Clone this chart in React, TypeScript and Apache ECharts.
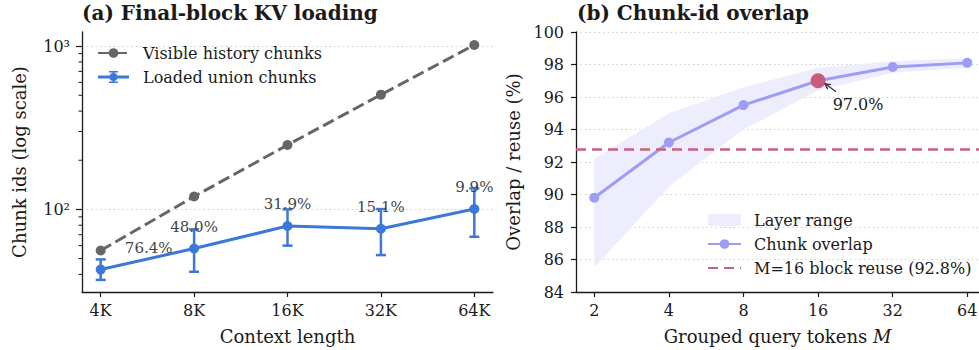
import React, { useEffect, useRef } from 'react';
import * as echarts from 'echarts';

// ---------- Panel (a) data ----------
const contextLabels = ['4K', '8K', '16K', '32K', '64K'];
const visibleChunks = [56, 120, 248, 504, 1016];
const loadedChunks = [42.8, 57.6, 79.1, 76.1, 100.6];
const loadedLow = [37, 41.5, 60, 52.5, 68];
const loadedHigh = [49.4, 75.5, 100, 100.5, 134.5];
const loadedPctLabels = ['76.4%', '48.0%', '31.9%', '15.1%', '9.9%'];
const logMajorTicks = [100, 1000];
const logMinorTicks = [40, 50, 60, 70, 80, 90, 200, 300, 400, 500, 600, 700, 800, 900];

// ---------- Panel (b) data ----------
const groupTokens = [2, 4, 8, 16, 32, 64];
const chunkOverlap = [89.8, 93.2, 95.5, 97.0, 97.85, 98.1];
const layerLow = [85.5, 90.5, 94.0, 96.4, 97.5, 97.8];
const layerHigh = [92.2, 95.0, 96.6, 97.8, 98.2, 98.4];
const blockReuse = 92.8;
const highlightM = 16;
const highlightValue = 97.0;

const FONT = 'DejaVu Serif';
const INK = '#1a1a1a';
const GRAY = '#666666';
const BLUE = '#3c78d8';
const LAVENDER = '#9d9df7';
const BAND = '#ededfd';
const ROSE = '#c9607f';
const GRID = '#cfcfcf';

// legend glyph: line + marker + error bar (drawn as one filled path)
const ERRBAR_ICON =
  'path://M0 4.5H31V7.5H0Z M14.5 0H16.5V12H14.5Z M11 0H20V1.6H11Z M11 10.4H20V12H11Z ' +
  'M19.5 6A4 4 0 1 1 11.5 6A4 4 0 1 1 19.5 6Z';

const supDigits: Record<string, string> = { '0': '⁰', '1': '¹', '2': '²', '3': '³', '4': '⁴' };

export default function App() {
  const ref = useRef<HTMLDivElement>(null);

  useEffect(() => {
    if (!ref.current) return;
    const chart = echarts.init(ref.current, null, { renderer: 'svg' });

    const axisLine = { show: true, onZero: false, lineStyle: { color: INK, width: 1.3 } };
    const tickStyle = { color: INK, width: 1.2 };
    const labelStyle = { fontFamily: FONT, fontSize: 16, color: INK };
    const nameStyle = { fontFamily: FONT, fontSize: 18, color: INK };
    const legendText = { fontFamily: FONT, fontSize: 16, color: INK, lineHeight: 16 };

    const xMinA = -0.2;
    const xMinB = -0.245;

    const option: any = {
      animation: false,
      textStyle: { fontFamily: FONT },
      title: [
        { text: '(a) Final-block KV loading', left: 82, top: 3, padding: 0,
          textStyle: { fontFamily: FONT, fontSize: 20, fontWeight: 'bold', color: INK } },
        { text: '(b) Chunk-id overlap', left: 577, top: 3, padding: 0,
          textStyle: { fontFamily: FONT, fontSize: 20, fontWeight: 'bold', color: INK } },
      ],
      grid: [
        { left: 82, top: 32, width: 411, height: 260, outerBoundsMode: 'none' },
        { left: 576, top: 32, width: 403, height: 260, outerBoundsMode: 'none' },
      ],
      legend: [
        {
          data: [
            'Visible history chunks',
            { name: 'Loaded union chunks', icon: ERRBAR_ICON, itemStyle: { color: BLUE } },
          ],
          left: 97, top: 45, orient: 'vertical', padding: 0,
          itemWidth: 31, itemHeight: 12, itemGap: 8,
          textStyle: { ...legendText, padding: [0, 0, 0, 9] },
        },
        {
          data: [
            { name: 'Layer range', icon: 'rect', itemStyle: { color: BAND } },
            'Chunk overlap',
            { name: 'M=16 block reuse (92.8%)', itemStyle: { opacity: 0 } },
          ],
          left: 707, top: 212, orient: 'vertical', padding: 0,
          itemWidth: 33, itemHeight: 12, itemGap: 8,
          textStyle: { ...legendText, padding: [0, 0, 0, 8] },
        },
      ],
      xAxis: [
        {
          type: 'value', gridIndex: 0, min: xMinA, max: 4.2,
          axisLine,
          axisTick: { show: true, customValues: contextLabels.map((_, i) => i), length: 5, lineStyle: tickStyle },
          axisLabel: { ...labelStyle, customValues: contextLabels.map((_, i) => i), margin: 10,
            formatter: (v: number) => contextLabels[Math.round(v)] ?? '' },
          splitLine: { show: false },
          name: 'Context length', nameLocation: 'middle', nameGap: 35, nameTextStyle: nameStyle,
        },
        {
          type: 'value', gridIndex: 1, min: xMinB, max: 5.157,
          axisLine,
          axisTick: { show: true, customValues: groupTokens.map((_, i) => i), length: 5, lineStyle: tickStyle },
          axisLabel: { ...labelStyle, customValues: groupTokens.map((_, i) => i), margin: 10,
            formatter: (v: number) => String(groupTokens[Math.round(v)] ?? '') },
          splitLine: { show: false },
          name: 'Grouped query tokens {i|M}', nameLocation: 'middle', nameGap: 35,
          nameTextStyle: { ...nameStyle, rich: { i: { fontFamily: FONT, fontSize: 18, fontStyle: 'italic', color: INK } } },
        },
      ],
      yAxis: [
        {
          type: 'log', logBase: 10, gridIndex: 0, min: 31.2, max: 1220,
          axisLine,
          axisTick: { show: true, customValues: logMajorTicks, length: 6, lineStyle: tickStyle },
          axisLabel: { ...labelStyle, customValues: logMajorTicks, margin: 12,
            formatter: (v: number) => '10' + String(Math.round(Math.log10(v))).split('').map((d) => supDigits[d]).join('') },
          splitLine: { show: false },
          name: 'Chunk ids (log scale)', nameLocation: 'middle', nameGap: 54, nameTextStyle: nameStyle,
        },
        {
          type: 'value', gridIndex: 1, min: 84, max: 100, interval: 2,
          axisLine,
          axisTick: { show: true, length: 5, lineStyle: tickStyle },
          axisLabel: { ...labelStyle, margin: 12 },
          splitLine: { show: true, lineStyle: { color: GRID, width: 1, type: [1.5, 3] } },
          name: 'Overlap / reuse (%)', nameLocation: 'middle', nameGap: 54, nameTextStyle: nameStyle,
        },
      ],
      series: [
        // ---- panel (a) ----
        {
          type: 'custom', name: 'minor-ticks', xAxisIndex: 0, yAxisIndex: 0, silent: true, clip: false,
          data: logMinorTicks.map((v) => [xMinA, v]),
          renderItem: (_p: any, api: any) => {
            const p = api.coord([api.value(0), api.value(1)]);
            return { type: 'line', shape: { x1: p[0] - 3.5, y1: p[1], x2: p[0], y2: p[1] },
              style: { stroke: INK, lineWidth: 1 } };
          },
          z: 1,
        },
        {
          type: 'line', name: 'Visible history chunks', xAxisIndex: 0, yAxisIndex: 0,
          data: visibleChunks.map((v, i) => [i, v]),
          symbol: 'circle', symbolSize: 10,
          itemStyle: { color: GRAY },
          lineStyle: { color: GRAY, width: 3, type: [12, 5] },
          z: 2,
          markLine: {
            silent: true, symbol: 'none', label: { show: false },
            lineStyle: { color: GRID, width: 1, type: [1.5, 3] },
            data: logMajorTicks.map((v) => ({ yAxis: v })),
            z: 0,
          },
        },
        {
          type: 'line', name: 'Loaded union chunks', xAxisIndex: 0, yAxisIndex: 0,
          data: loadedChunks.map((v, i) => [i, v]),
          symbol: 'circle', symbolSize: 10,
          itemStyle: { color: BLUE },
          lineStyle: { color: BLUE, width: 3 },
          z: 3,
        },
        {
          type: 'custom', name: 'loaded-errors', xAxisIndex: 0, yAxisIndex: 0, silent: true,
          data: loadedChunks.map((v, i) => [i, loadedLow[i], loadedHigh[i], v]),
          renderItem: (params: any, api: any) => {
            const i = params.dataIndex;
            const x = api.value(0);
            const lo = api.coord([x, api.value(1)]);
            const hi = api.coord([x, api.value(2)]);
            const mid = api.coord([x, api.value(3)]);
            const cap = 5;
            const dx = i === 0 ? 48 : 0;
            return {
              type: 'group',
              children: [
                { type: 'line', shape: { x1: lo[0], y1: lo[1], x2: hi[0], y2: hi[1] }, style: { stroke: BLUE, lineWidth: 2.5 } },
                { type: 'line', shape: { x1: lo[0] - cap, y1: lo[1], x2: lo[0] + cap, y2: lo[1] }, style: { stroke: BLUE, lineWidth: 2.5 } },
                { type: 'line', shape: { x1: hi[0] - cap, y1: hi[1], x2: hi[0] + cap, y2: hi[1] }, style: { stroke: BLUE, lineWidth: 2.5 } },
                { type: 'text', x: mid[0] + dx, y: mid[1] - 22,
                  style: { text: loadedPctLabels[i], fill: '#444444', fontSize: 15, fontFamily: FONT, align: 'center', verticalAlign: 'middle' } },
              ],
            };
          },
          z: 4,
        },
        // ---- panel (b) ----
        {
          type: 'custom', name: 'Layer range', xAxisIndex: 1, yAxisIndex: 1, silent: true,
          itemStyle: { color: BAND },
          data: groupTokens.map((_, i) => [i, layerLow[i], layerHigh[i]]),
          renderItem: (params: any, api: any) => {
            if (params.dataIndex !== 0) return null;
            const upper = layerHigh.map((v, i) => api.coord([i, v]));
            const lower = layerLow.map((v, i) => api.coord([i, v])).reverse();
            return { type: 'polygon', shape: { points: [...upper, ...lower] }, style: { fill: BAND } };
          },
          z: 1,
        },
        {
          type: 'line', name: 'M=16 block reuse (92.8%)', xAxisIndex: 1, yAxisIndex: 1,
          data: [], symbol: 'none', showSymbol: false,
          itemStyle: { color: ROSE },
          lineStyle: { color: ROSE, width: 2.5, type: [10, 6] },
          markLine: {
            silent: true, symbol: 'none', label: { show: false },
            lineStyle: { color: ROSE, width: 2.5, type: [10, 6] },
            data: [{ yAxis: blockReuse }],
          },
          z: 2,
        },
        {
          type: 'line', name: 'Chunk overlap', xAxisIndex: 1, yAxisIndex: 1,
          data: chunkOverlap.map((v, i) => [i, v]),
          symbol: 'circle', symbolSize: 10,
          itemStyle: { color: LAVENDER },
          lineStyle: { color: LAVENDER, width: 3 },
          z: 3,
        },
        {
          type: 'custom', name: 'highlight', xAxisIndex: 1, yAxisIndex: 1, silent: true, clip: false,
          data: [[groupTokens.indexOf(highlightM), highlightValue]],
          renderItem: (_params: any, api: any) => {
            const p = api.coord([api.value(0), api.value(1)]);
            const head = [p[0] + 7, p[1] + 3];
            const tail = [p[0] + 18, p[1] + 11];
            const ang = Math.atan2(head[1] - tail[1], head[0] - tail[0]);
            const L = 6;
            const a = 0.5;
            const w1 = [head[0] - L * Math.cos(ang - a), head[1] - L * Math.sin(ang - a)];
            const w2 = [head[0] - L * Math.cos(ang + a), head[1] - L * Math.sin(ang + a)];
            return {
              type: 'group',
              children: [
                { type: 'circle', shape: { cx: p[0], cy: p[1], r: 7.5 }, style: { fill: '#c85b7b' } },
                { type: 'line', shape: { x1: tail[0], y1: tail[1], x2: head[0], y2: head[1] }, style: { stroke: '#333', lineWidth: 1.3 } },
                { type: 'polyline', shape: { points: [w1, head, w2] }, style: { stroke: '#333', lineWidth: 1.3, fill: null } },
                { type: 'text', x: p[0] + 40, y: p[1] + 24,
                  style: { text: api.value(1).toFixed(1) + '%', fill: INK, fontSize: 16, fontFamily: FONT, align: 'center', verticalAlign: 'middle' } },
              ],
            };
          },
          z: 5,
        },
      ],
    };

    chart.setOption(option);
    return () => chart.dispose();
  }, []);

  return (
    <div
      ref={ref}
      style={{ position: 'fixed', left: 0, top: 0, width: 979, height: 350, background: '#ffffff' }}
    />
  );
}
